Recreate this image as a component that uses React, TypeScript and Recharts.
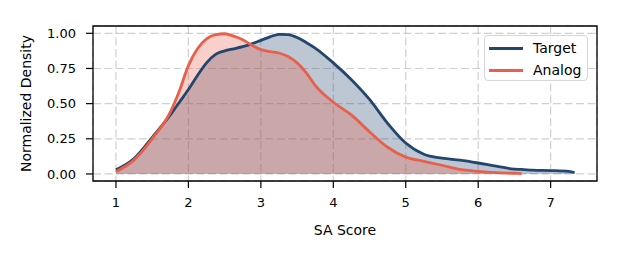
import React from 'react';
import {
  ComposedChart, Area, Line, XAxis, YAxis, CartesianGrid, ReferenceArea,
} from 'recharts';

// SA score grid the two KDE curves were read at
const scores = [
  1.0, 1.25, 1.5, 1.75, 1.875, 2.0, 2.125, 2.25, 2.375, 2.5, 2.625, 2.75, 2.875, 3.0,
  3.125, 3.25, 3.375, 3.5, 3.625, 3.75, 4.0, 4.25, 4.5, 4.75, 5.0, 5.25, 5.5, 5.75,
  6.0, 6.25, 6.5, 6.6, 6.75, 7.0, 7.25, 7.33,
];
const targetDensity = [
  0.03, 0.11, 0.26, 0.42, 0.51, 0.6, 0.7, 0.79, 0.85, 0.875, 0.89, 0.905, 0.925, 0.95,
  0.975, 0.993, 0.99, 0.97, 0.935, 0.895, 0.79, 0.67, 0.53, 0.36, 0.22, 0.14, 0.112, 0.098,
  0.078, 0.055, 0.034, 0.032, 0.027, 0.024, 0.018, 0.01,
];
const analogDensity: (number | null)[] = [
  0.016, 0.1, 0.25, 0.44, 0.59, 0.77, 0.89, 0.96, 0.99, 0.997, 0.98, 0.955, 0.915, 0.885,
  0.87, 0.86, 0.835, 0.79, 0.72, 0.63, 0.51, 0.42, 0.3, 0.19, 0.12, 0.09, 0.062, 0.032,
  0.018, 0.009, 0.005, 0.003, null, null, null, null,
];
const xTicks = [1, 2, 3, 4, 5, 6, 7];
const yTicks = [0, 0.25, 0.5, 0.75, 1];

const X_DOMAIN: [number, number] = [0.683, 7.64];
const Y_DOMAIN: [number, number] = [-0.05, 1.052];

const TARGET = '#23466e';
const ANALOG = '#e8604c';
const FONT = 'DejaVu Sans';

const data = scores.map((s, i) => ({ score: s, target: targetDensity[i], analog: analogDensity[i] }));

const LegendBox = () => (
  <div style={{
    position: 'absolute', left: 484, top: 35,
    width: 104, height: 46, border: '1px solid #d6d6d6', borderRadius: 4,
    background: 'rgba(255,255,255,0.8)', fontFamily: FONT, fontSize: 14, color: '#000',
    boxSizing: 'border-box', paddingTop: 1,
  }}>
    {[['Target', TARGET], ['Analog', ANALOG]].map(([name, color]) => (
      <div key={name} style={{ display: 'flex', alignItems: 'center', height: 22 }}>
        <div style={{ width: 34, height: 3, background: color, marginLeft: 4, marginRight: 10 }} />
        <span>{name}</span>
      </div>
    ))}
  </div>
);

export default function App() {
  const tickStyle = { fill: '#000', fontSize: 13, fontFamily: FONT };
  return (
    <div style={{ position: 'absolute', left: 0, top: 0, width: 623, height: 267, background: '#fff' }}>
      <ComposedChart width={623} height={267} data={data} margin={{ top: 26, right: 26, left: 0, bottom: 0 }}>
        <Area dataKey="target" type="monotone" baseValue={0} fill={TARGET} fillOpacity={0.3} stroke="none"
          isAnimationActive={false} connectNulls />
        <Area dataKey="analog" type="monotone" baseValue={0} fill={ANALOG} fillOpacity={0.3} stroke="none"
          isAnimationActive={false} connectNulls />
        <CartesianGrid stroke="#b0b0b0" strokeOpacity={0.6} strokeWidth={1.2} strokeDasharray="8 3.5" />
        <XAxis dataKey="score" type="number" domain={X_DOMAIN} ticks={xTicks} allowDataOverflow
          axisLine={false} tickSize={7} tickMargin={10} height={86} tick={tickStyle}
          tickLine={{ stroke: '#000', strokeWidth: 1.2 }}
          label={{ value: 'SA Score', position: 'insideBottom', offset: 32, fill: '#000', fontSize: 14, fontFamily: FONT }} />
        <YAxis type="number" domain={Y_DOMAIN} ticks={yTicks} allowDataOverflow width={93}
          axisLine={false} tickSize={7} tickMargin={10} tick={tickStyle}
          tickLine={{ stroke: '#000', strokeWidth: 1.2 }}
          tickFormatter={(v: number) => v.toFixed(2)}
          label={{
            content: () => (
              <text x={26} y={103.5} transform="rotate(-90, 26, 103.5)" textAnchor="middle"
                dominantBaseline="central" fill="#000" fontSize={14} fontFamily={FONT}>
                Normalized Density
              </text>
            ),
          }} />
        <Line dataKey="target" type="monotone" stroke={TARGET} strokeWidth={2.8} dot={false}
          isAnimationActive={false} connectNulls />
        <Line dataKey="analog" type="monotone" stroke={ANALOG} strokeWidth={2.8} dot={false}
          isAnimationActive={false} connectNulls />
        <ReferenceArea x1={X_DOMAIN[0]} x2={X_DOMAIN[1]} y1={Y_DOMAIN[0]} y2={Y_DOMAIN[1]}
          fill="none" stroke="#000" strokeWidth={1.3} ifOverflow="visible" />
      </ComposedChart>
      <LegendBox />
    </div>
  );
}
